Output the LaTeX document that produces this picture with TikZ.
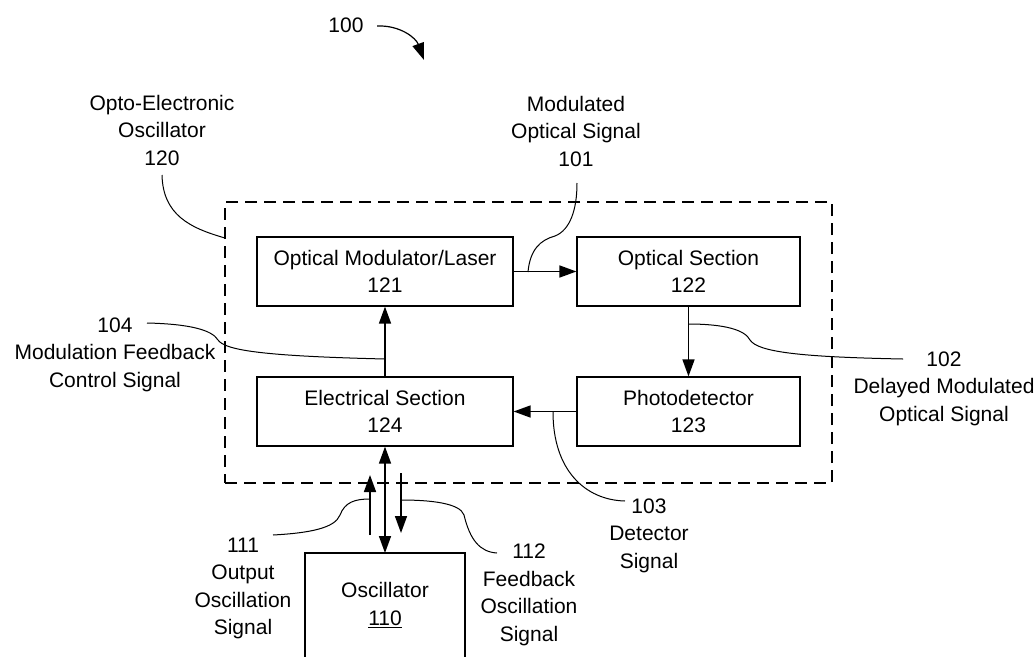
\documentclass[tikz,border=0pt]{standalone}
\usepackage{fontspec}
\setmainfont{Liberation Sans}
\usetikzlibrary{arrows.meta}

\tikzset{
  block/.style={draw, line width=1.2pt, minimum width=256pt, minimum height=69pt,
    align=center, inner sep=0pt},
  tag/.style={align=center, inner sep=0pt},
  sig/.style={line width=1.6pt, -{Triangle[length=17pt,width=12pt]}},
  lead/.style={line width=1pt},
}

\begin{document}
\begin{tikzpicture}[x=1pt,y=-1pt,font=\fontsize{21}{27.5}\selectfont]
  \useasboundingbox (0,0) rectangle (1036,656);

  % the dashed outline of the oscillator 120
  \node[draw, dash pattern=on 12pt off 7pt, line width=1.1pt,
    minimum width=607pt, minimum height=281pt] (oeo) at (528.5,342.5) {};

  \node[block] (mod) at (385,271.5) {Optical Modulator/Laser\\121};
  \node[block, minimum width=223pt] (opt) at (688.5,271.5) {Optical Section\\122};
  \node[block, minimum width=223pt] (pd) at (688.5,411.5) {Photodetector\\123};
  \node[block] (elec) at (385,411.5) {Electrical Section\\124};

  % oscillator 110, cut off by the page bottom
  \node[tag] (osc) at (385,605) {Oscillator\\\underline{110}};
  \draw[line width=1.2pt] (305,660) |- (465,553) -- (465,660);
  \coordinate (oscTop) at (385,553);

  \draw[sig] (mod.east) -- (opt.west);
  \draw[sig] (opt.south) -- (pd.north);
  \draw[sig] (pd.west) -- (elec.east);
  \draw[sig] (elec.north) -- (mod.south);
  \draw[sig, {Triangle[length=17pt,width=12pt]}-{Triangle[length=17pt,width=12pt]}]
    (elec.south) -- (oscTop);

  \coordinate (outLo) at (370,535);
  \coordinate (outHi) at (370,475);
  \coordinate (fbHi) at (401,473);
  \coordinate (fbLo) at (401,533);
  \draw[sig] (outLo) -- (outHi);
  \draw[sig] (fbHi) -- (fbLo);

  % labels
  \node[anchor=base] (t100) at (346,32) {100};
  \node[tag] (t120) at (162,130.3) {Opto-Electronic\\Oscillator\\120};
  \node[tag] (t101) at (576,131.3) {Modulated\\Optical Signal\\101};
  \node[tag] (t104) at (115,354.5) {104\\Modulation Feedback\\Control Signal};
  \node[tag] (t102) at (944,388.5) {102\\Delayed Modulated\\Optical Signal};
  \node[tag] (t103) at (649,535.5) {103\\Detector\\Signal};
  \node[tag] (t111) at (243,588.5) {111\\Output\\Oscillation\\Signal};
  \node[tag] (t112) at (529,595) {112\\Feedback\\Oscillation\\Signal};

  % leader ends
  \coordinate (a100) at (377,26);
  \coordinate (b100) at (424,60);
  \coordinate (a120) at (162,175);
  \coordinate (b120) at (225,238);
  \coordinate (a101) at (577,183);
  \coordinate (b101) at (528,272);
  \coordinate (a104) at (147,323);
  \coordinate (b104) at (385,359);
  \coordinate (a102) at (903,359);
  \coordinate (b102) at (688,324);
  \coordinate (a103) at (625,501);
  \coordinate (b103) at (553,412);
  \coordinate (a111) at (273,535);
  \coordinate (a112) at (497,553);

  \draw[line width=1.2pt, -{Triangle[length=17pt,width=12pt]}]
    (a100) .. controls (400,25) and (416,38) .. (b100);
  \draw[lead] (a120) .. controls (163,215) and (190,228) .. (b120);
  \draw[lead] (b101) .. controls (530,250) and (540,240) .. (555,236)
    .. controls (570,230) and (577,210) .. (a101);
  \draw[lead] (a104) .. controls (190,324) and (212,330) .. (218,340)
    .. controls (225,350) and (260,356) .. (b104);
  \draw[lead] (b102) .. controls (725,324) and (745,330) .. (750,340)
    .. controls (758,352) and (800,357) .. (a102);
  \draw[lead] (b103) .. controls (553,470) and (585,500) .. (a103);
  \draw[lead] (a111) .. controls (310,533) and (335,528) .. (340,515)
    .. controls (345,502) and (355,499) .. (outLo |- 0,499);
  \draw[lead] (fbHi |- 0,500) .. controls (430,500) and (460,503) .. (464,515)
    .. controls (470,540) and (480,552) .. (a112);
\end{tikzpicture}
\end{document}
